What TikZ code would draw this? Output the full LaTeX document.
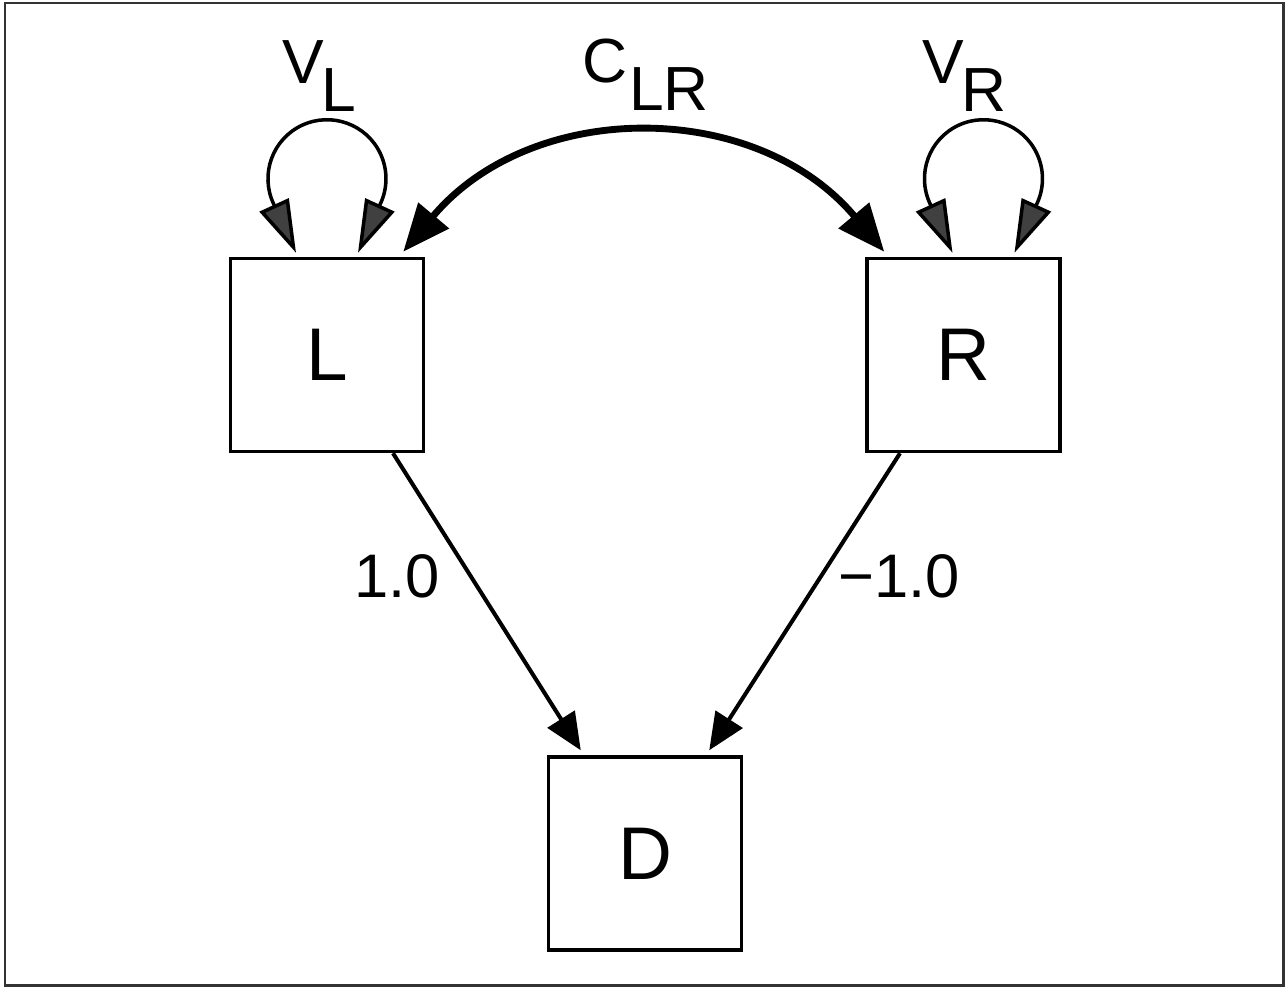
\documentclass[tikz,border=0pt]{standalone}
\usepackage{fontspec}
\setmainfont{Liberation Sans}
\usetikzlibrary{arrows.meta,calc}

\tikzset{
  box/.style={draw, line width=2pt, minimum width=3.86cm, minimum height=3.86cm,
    inner sep=0pt, font=\fontsize{42.5}{50}\selectfont},
  lbl/.style={inner sep=0pt, anchor=base west, font=\fontsize{35.5}{42}\selectfont},
  numlbl/.style={inner sep=0pt, anchor=base west, font=\fontsize{35}{42}\selectfont},
  pathedge/.style={line width=2.3pt, -{Triangle[length=21pt,width=18pt]}},
  covedge/.style={line width=3.9pt, {Triangle[length=27pt,width=22pt]}-{Triangle[length=27pt,width=22pt]}},
  varloop/.style={line width=2pt,
    {Triangle[length=30pt,width=18pt,fill=black!75]}-{Triangle[length=30pt,width=18pt,fill=black!75]}},
  frame/.style={line width=1.7pt, draw=black!80}
}

\newcommand{\lowsub}[2][-1.5pt]{\kern#1\raisebox{-16pt}{#2}}

\begin{document}
\begin{tikzpicture}[x=0.02cm, y=-0.02cm]
  \useasboundingbox (0,0) rectangle (1288,987);
  \draw[frame] (5,3) rectangle (1283,985);

  % variables
  \node[box] (L) at (327,355) {L};
  \node[box] (R) at (963.5,355) {R};
  \node[box] (D) at (645,853.5) {D};

  % variance loops
  \draw[varloop] ($(L.north)+(-31,-4)$) -- ($(L.north)+(-53.5,-53.1)$)
    arc[start angle=155, end angle=385, radius=59] -- ($(L.north)+(31,-4)$);
  \draw[varloop] ($(R.north)+(-11,-4)$) -- ($(R.north)+(-33.5,-53.1)$)
    arc[start angle=155, end angle=385, radius=59] -- ($(R.north)+(51,-4)$);

  % covariance between L and R
  \draw[covedge] ($(L.north east)+(-22,-5)$) .. controls +(-50:200) and +(230:200) ..
    ($(R.north west)+(19,-5)$);

  % paths into D
  \draw[pathedge] ($(L.south)+(66,0)$) -- ($(D.north west)+(34,-5)$);
  \draw[pathedge] ($(R.south)+(-63.5,0)$) -- ($(D.north east)+(-34,-5)$);

  % labels
  \node[lbl] (vl) at (282,83) {V\lowsub{L}};
  \node[lbl] (clr) at (582,82) {C\lowsub[1pt]{LR}};
  \node[lbl] (vr) at (922,83) {V\lowsub{R}};
  \node[numlbl] (wl) at (354,597) {1.0};
  \node[numlbl] (wr) at (838,597) {−1.0};
\end{tikzpicture}
\end{document}
